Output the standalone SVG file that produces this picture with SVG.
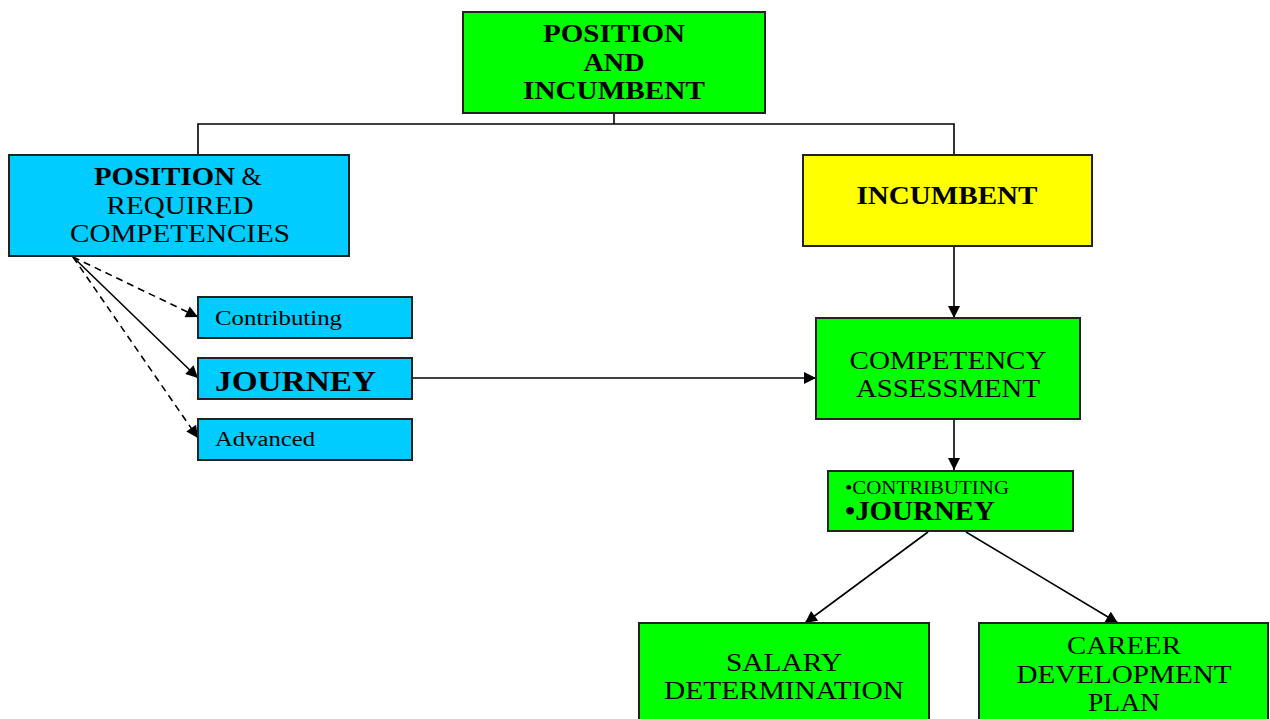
<svg xmlns="http://www.w3.org/2000/svg" width="1270" height="719" viewBox="0 0 1270 719">
<style>
.box{stroke:#222;stroke-width:2}
.g{fill:#00ff00}.b{fill:#00ccff}.y{fill:#ffff00}
text{font-family:"Liberation Serif","Times New Roman",serif;fill:#000}
.c{text-anchor:middle}
.bd{font-weight:bold}
.ln{stroke:#000;stroke-width:1.6;fill:none}
.dash{stroke-dasharray:7,5}
</style>
<defs>
<marker id="ah2" viewBox="0 0 10 10" refX="10" refY="5" markerWidth="13" markerHeight="12" markerUnits="userSpaceOnUse" orient="auto">
<path d="M0,0 L10,5 L0,10 z" fill="#000"/>
</marker>
</defs>
<g id="connectors">
<polyline class="ln" points="614,113 614,124"/>
<polyline class="ln" points="198,155 198,124 954,124 954,155"/>
<line class="ln" x1="954" y1="246" x2="954" y2="318" marker-end="url(#ah2)"/>
<line class="ln" x1="954" y1="419" x2="954" y2="470" marker-end="url(#ah2)"/>
<line class="ln" x1="412" y1="378" x2="816" y2="378" marker-end="url(#ah2)"/>
<line class="ln" x1="928" y1="532" x2="805" y2="623" marker-end="url(#ah2)"/>
<line class="ln" x1="966" y1="532" x2="1118" y2="623" marker-end="url(#ah2)"/>
<line class="ln dash" x1="73" y1="257" x2="198" y2="317" marker-end="url(#ah2)"/>
<line class="ln" x1="73" y1="257" x2="198" y2="378" marker-end="url(#ah2)"/>
<line class="ln dash" x1="73" y1="257" x2="198" y2="438" marker-end="url(#ah2)"/>
</g>
<g id="n-top">
<rect class="box g" x="463" y="12" width="302" height="101"/>
<text class="c bd" x="614" y="42" font-size="26" textLength="142" lengthAdjust="spacingAndGlyphs">POSITION</text>
<text class="c bd" x="614" y="71" font-size="26" textLength="61" lengthAdjust="spacingAndGlyphs">AND</text>
<text class="c bd" x="614" y="99" font-size="26" textLength="182" lengthAdjust="spacingAndGlyphs">INCUMBENT</text>
</g>
<g id="n-position">
<rect class="box b" x="9" y="155" width="340" height="101"/>
<text x="94" y="185" font-size="26"><tspan class="bd" textLength="141" lengthAdjust="spacingAndGlyphs">POSITION</tspan> &amp;</text>
<text class="c" x="180" y="214" font-size="26" textLength="147" lengthAdjust="spacingAndGlyphs">REQUIRED</text>
<text class="c" x="180" y="242" font-size="26" textLength="220" lengthAdjust="spacingAndGlyphs">COMPETENCIES</text>
</g>
<g id="n-incumbent">
<rect class="box y" x="803" y="155" width="289" height="91"/>
<text class="c bd" x="947" y="204" font-size="26" textLength="181" lengthAdjust="spacingAndGlyphs">INCUMBENT</text>
</g>
<g id="n-contributing">
<rect class="box b" x="198" y="297" width="214" height="41"/>
<text x="215" y="325" font-size="20" textLength="127" lengthAdjust="spacingAndGlyphs">Contributing</text>
</g>
<g id="n-journey">
<rect class="box b" x="198" y="358" width="214" height="41"/>
<text class="bd" x="215" y="391" font-size="29" textLength="161" lengthAdjust="spacingAndGlyphs">JOURNEY</text>
</g>
<g id="n-advanced">
<rect class="box b" x="198" y="419" width="214" height="41"/>
<text x="215" y="446" font-size="20" textLength="100" lengthAdjust="spacingAndGlyphs">Advanced</text>
</g>
<g id="n-assessment">
<rect class="box g" x="816" y="318" width="264" height="101"/>
<text class="c" x="948" y="369" font-size="26" textLength="197" lengthAdjust="spacingAndGlyphs">COMPETENCY</text>
<text class="c" x="948" y="397" font-size="26" textLength="184" lengthAdjust="spacingAndGlyphs">ASSESSMENT</text>
</g>
<g id="n-levels">
<rect class="box g" x="828" y="471" width="245" height="60"/>
<text x="845" y="494" font-size="18" textLength="164" lengthAdjust="spacingAndGlyphs">•CONTRIBUTING</text>
<text class="bd" x="845" y="520" font-size="27" textLength="150" lengthAdjust="spacingAndGlyphs">•JOURNEY</text>
</g>
<g id="n-salary">
<rect class="box g" x="639" y="623" width="290" height="100"/>
<text class="c" x="784" y="671" font-size="26" textLength="116" lengthAdjust="spacingAndGlyphs">SALARY</text>
<text class="c" x="784" y="699" font-size="26" textLength="240" lengthAdjust="spacingAndGlyphs">DETERMINATION</text>
</g>
<g id="n-career">
<rect class="box g" x="979" y="623" width="289" height="100"/>
<text class="c" x="1124" y="654" font-size="26" textLength="114" lengthAdjust="spacingAndGlyphs">CAREER</text>
<text class="c" x="1124" y="683" font-size="26" textLength="215" lengthAdjust="spacingAndGlyphs">DEVELOPMENT</text>
<text class="c" x="1124" y="711" font-size="26" textLength="72" lengthAdjust="spacingAndGlyphs">PLAN</text>
</g>
</svg>
